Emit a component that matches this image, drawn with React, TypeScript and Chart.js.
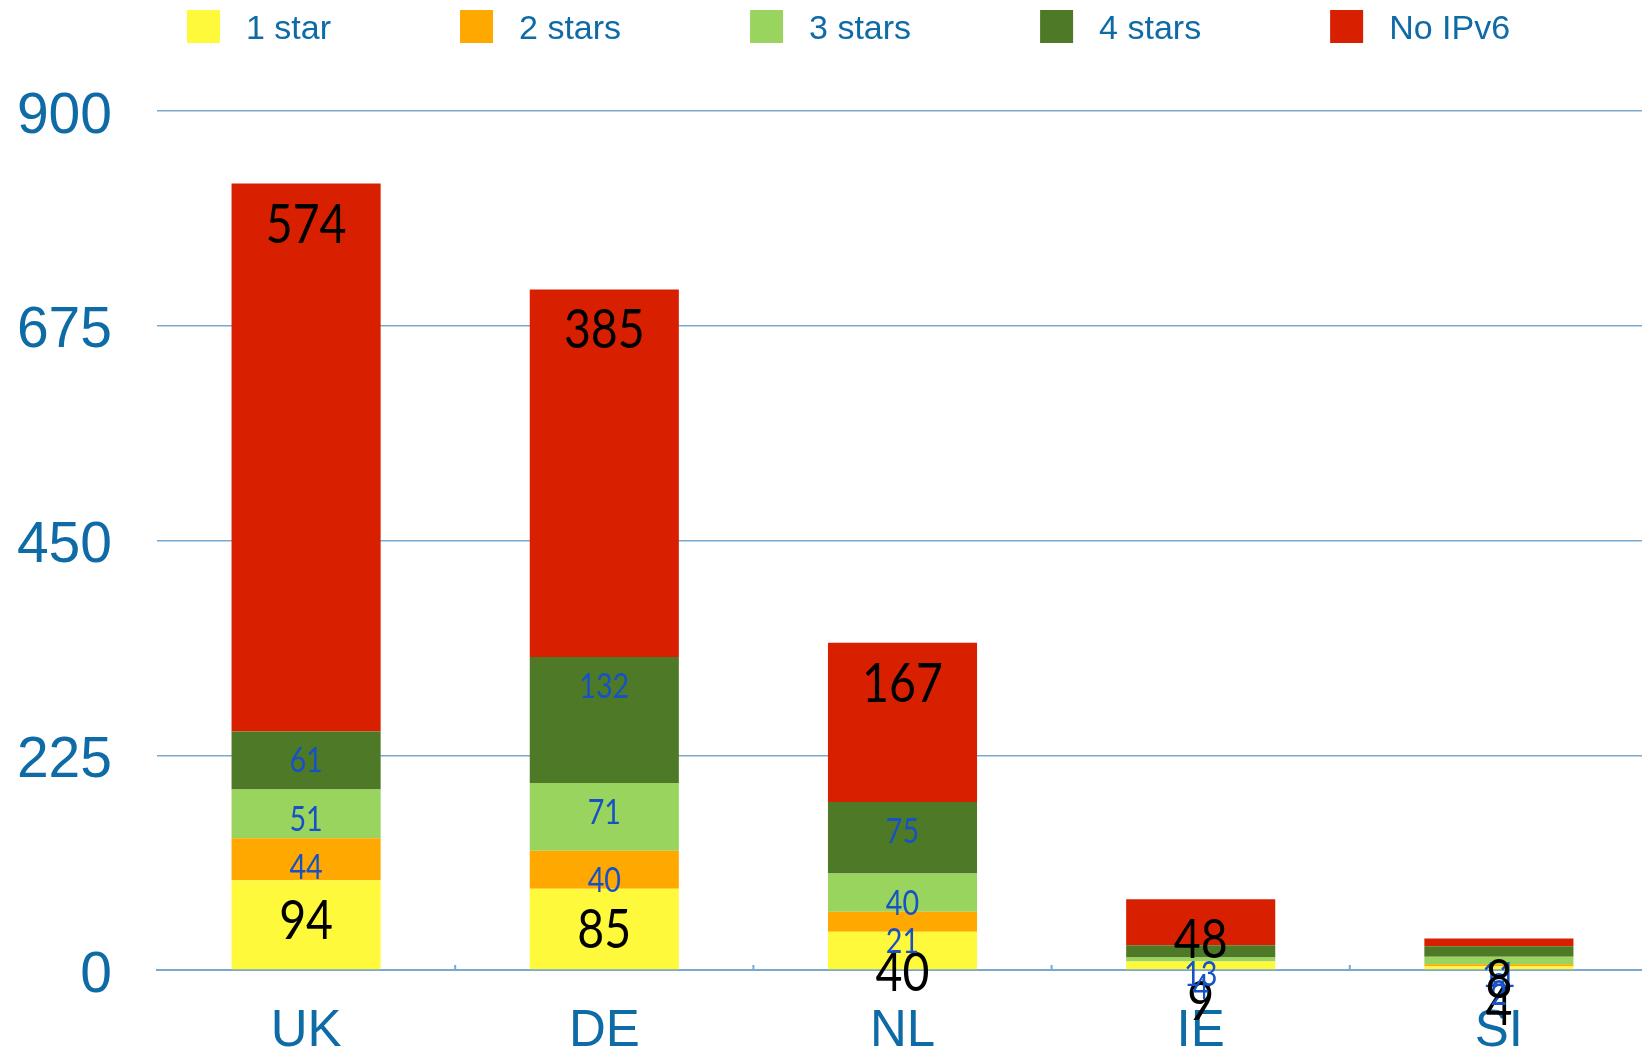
import React, { useEffect, useRef } from 'react';
import { Chart, registerables } from 'chart.js';

Chart.register(...registerables);

// ---- data ----
const categories = ['UK', 'DE', 'NL', 'IE', 'SI'];
const seriesNames = ['1 star', '2 stars', '3 stars', '4 stars', 'No IPv6'];
const oneStar = [94, 85, 40, 9, 4];
const twoStars = [44, 40, 21, 0, 2];
const threeStars = [51, 71, 40, 4, 8];
const fourStars = [61, 132, 75, 13, 11];
const noIPv6 = [574, 385, 167, 48, 8];
const yTicks = [0, 225, 450, 675, 900];

// ---- styles ----
const seriesColors = ['#FFF93B', '#FFA800', '#99D45F', '#4E7A27', '#D82000'];
const tickColor = '#0E6BA6';
const gridColor = '#79A9CF';
const innerLabelColor = '#1652C6';

const valueLabels = {
  id: 'valueLabels',
  afterDatasetsDraw(chart: any) {
    const ctx = chart.ctx;
    chart.data.datasets.forEach((ds: any, di: number) => {
      const meta = chart.getDatasetMeta(di);
      const big = di === 0 || di === chart.data.datasets.length - 1;
      meta.data.forEach((bar: any, i: number) => {
        const v = ds.data[i];
        if (!v) return;
        const top = Math.min(bar.y, bar.base);
        ctx.save();
        ctx.font = big ? '54px Lato' : '35px Lato';
        ctx.fillStyle = big ? '#000000' : innerLabelColor;
        ctx.textAlign = 'center';
        ctx.textBaseline = 'alphabetic';
        ctx.translate(bar.x, top + (big ? 59 : 41));
        ctx.scale(big ? 0.86 : 0.82, 1);
        ctx.fillText(String(v), 0, 0);
        ctx.restore();
      });
    });
  },
};

const customLegend = {
  id: 'customLegend',
  afterDraw(chart: any) {
    const ctx = chart.ctx;
    ctx.save();
    ctx.font = '34px "Liberation Sans"';
    ctx.textBaseline = 'alphabetic';
    ctx.textAlign = 'left';
    let x = 187;
    chart.data.datasets.forEach((ds: any) => {
      ctx.fillStyle = ds.backgroundColor;
      ctx.fillRect(x, 10, 33, 33);
      ctx.fillStyle = tickColor;
      ctx.fillText(ds.label, x + 59, 39);
      x += 59 + ctx.measureText(ds.label).width + 129;
    });
    ctx.restore();
  },
};

const categoryTicks = {
  id: 'categoryTicks',
  afterDraw(chart: any) {
    const ctx = chart.ctx;
    const xs = chart.scales.x;
    const bottom = chart.chartArea.bottom;
    ctx.save();
    ctx.strokeStyle = gridColor;
    ctx.lineWidth = 2;
    for (let i = 1; i < categories.length; i++) {
      const px = (xs.getPixelForValue(i - 1) + xs.getPixelForValue(i)) / 2;
      ctx.beginPath();
      ctx.moveTo(px, bottom - 5);
      ctx.lineTo(px, bottom);
      ctx.stroke();
    }
    ctx.restore();
  },
};

export default function App() {
  const ref = useRef<HTMLCanvasElement | null>(null);

  useEffect(() => {
    if (!ref.current) return;
    const series = [oneStar, twoStars, threeStars, fourStars, noIPv6];
    const chart = new Chart(ref.current, {
      type: 'bar',
      data: {
        labels: categories,
        datasets: series.map((d, i) => ({
          label: seriesNames[i],
          data: d,
          backgroundColor: seriesColors[i],
          borderWidth: 0,
          barPercentage: 0.5,
          categoryPercentage: 1,
        })),
      },
      options: {
        responsive: false,
        animation: false,
        devicePixelRatio: 1,
        layout: { padding: { top: 111, left: 0, right: 0, bottom: 0 } },
        plugins: {
          legend: { display: false },
          tooltip: { enabled: false },
        },
        scales: {
          x: {
            stacked: true,
            offset: true,
            grid: { display: false, drawTicks: false },
            border: { display: true, color: gridColor, width: 2 },
            ticks: {
              color: tickColor,
              font: { family: '"Liberation Sans"', size: 51 },
              padding: 31,
              maxRotation: 0,
              autoSkip: false,
            },
            afterFit(scale: any) {
              scale.height = 83;
            },
          },
          y: {
            stacked: true,
            min: yTicks[0],
            max: yTicks[yTicks.length - 1],
            grid: { color: gridColor, lineWidth: 1.5, drawTicks: false },
            border: { display: false },
            ticks: {
              stepSize: yTicks[1] - yTicks[0],
              color: tickColor,
              font: { family: '"Liberation Sans"', size: 57 },
              padding: 45,
              labelOffset: 6,
            },
            afterFit(scale: any) {
              scale.width = 157;
            },
          },
        },
      },
      plugins: [valueLabels, customLegend, categoryTicks],
    });
    return () => chart.destroy();
  }, []);

  return (
    <div
      style={{
        position: 'fixed',
        left: 0,
        top: 0,
        width: 1642,
        height: 1053,
        overflow: 'hidden',
        background: '#ffffff',
      }}
    >
      <canvas ref={ref} width={1648} height={1053} style={{ display: 'block' }} />
    </div>
  );
}
